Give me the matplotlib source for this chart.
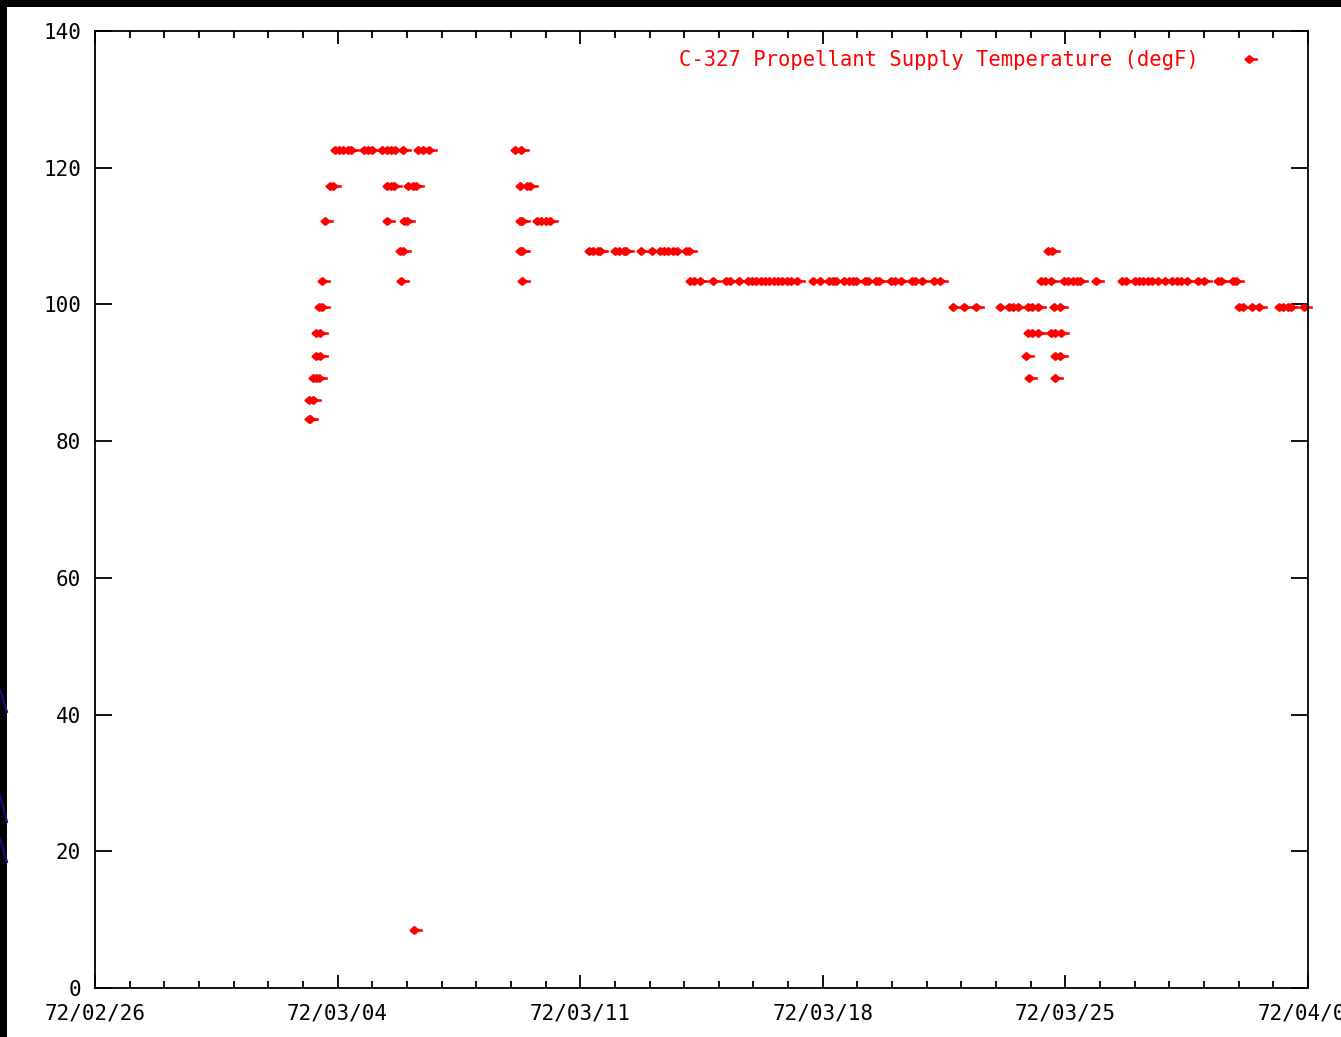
import matplotlib
matplotlib.use('Agg')
import matplotlib.pyplot as plt
import matplotlib.dates as mdates
from matplotlib.path import Path
from matplotlib.patches import Rectangle
from matplotlib.lines import Line2D
import datetime as dt

plt.rcParams['font.family'] = ['DejaVu Sans Mono', 'DejaVu Sans']

# ---------------- data (hours since 1972-02-26 00:00) ----------------
start = dt.datetime(1972, 2, 26)
series_label = "C-327 Propellant Supply Temperature (degF)"

t_122_6 = [166, 169, 172, 175, 177, 186, 189, 192, 199, 202, 205, 208, 213,
           224, 227, 231, 291, 295]
t_117_3 = [163, 165, 202, 205, 207, 217, 220, 222, 294, 299, 301]
t_112_2 = [159, 202, 214, 216, 294, 296, 306, 309, 312, 315]
t_107_8 = [211, 213, 294, 296, 342, 345, 348, 350, 360, 363, 366, 368, 378,
           386, 391, 394, 397, 400, 403, 409, 411, 660, 663]
t_103_4 = [157, 212, 296, 412, 415, 419, 428, 437, 440, 446, 452, 455, 458,
           461, 464, 467, 470, 473, 476, 479, 482, 486, 497, 502, 508, 511,
           513, 519, 522, 525, 527, 533, 535, 541, 543, 551, 554, 558, 566,
           568, 573, 581, 585, 655, 658, 662, 671, 674, 677, 680, 682, 693,
           711, 714, 720, 723, 726, 729, 732, 736, 741, 746, 749, 752, 756,
           764, 768, 778, 780, 788, 790]
t_99_6 = [155, 157, 594, 602, 610, 627, 633, 636, 639, 646, 649, 653, 664,
          668, 792, 795, 801, 806, 820, 823, 826, 828, 837]
t_95_8 = [153, 156, 646, 649, 653, 662, 665, 669]
t_92_5 = [153, 156, 645, 665, 668]
t_89_2 = [151, 153, 155, 647, 665]
t_86_0 = [148, 151]
t_83_2 = [148, 149]
t_8_5 = [221]

levels = [(122.6, t_122_6), (117.3, t_117_3), (112.2, t_112_2),
          (107.8, t_107_8), (103.4, t_103_4), (99.6, t_99_6),
          (95.8, t_95_8), (92.5, t_92_5), (89.2, t_89_2), (86.0, t_86_0),
          (83.2, t_83_2), (8.5, t_8_5)]

y_ticks = [0, 20, 40, 60, 80, 100, 120, 140]
n_days = 35

# ---------------- figure ----------------
W, H = 1341, 1037
fig = plt.figure(figsize=(W / 100, H / 100), dpi=100, facecolor='black')
fig.patches.append(Rectangle((7 / W, 0), 1, (H - 7) / H, transform=fig.transFigure,
                             facecolor='white', edgecolor='none', zorder=-10))
# faint navy decorative strokes on the left border
for (x0, y0, x1, y1) in [(0, 690, 7, 712), (0, 795, 7, 822), (0, 838, 7, 862)]:
    fig.add_artist(Line2D([x0 / W, x1 / W], [1 - y0 / H, 1 - y1 / H],
                          transform=fig.transFigure, color='#101080', lw=1.5,
                          zorder=-5))

ax = fig.add_axes([95 / W, (H - 988) / H, (1308 - 95) / W, (988 - 31) / H])
ax.set_facecolor('white')
ax.set_zorder(1)

verts = [(-1, 0), (0, 0.85), (1, 0), (0, -0.85), (-1, 0), (1, 0), (2.2, 0)]
codes = [Path.MOVETO, Path.LINETO, Path.LINETO, Path.LINETO, Path.CLOSEPOLY,
         Path.MOVETO, Path.LINETO]
marker = Path(verts, codes)

xs, ys = [], []
for v, hrs in levels:
    for h in hrs:
        xs.append(start + dt.timedelta(hours=h))
        ys.append(v)

ax.plot(xs, ys, linestyle='none', marker=marker, ms=12, mfc='red',
        mec='red', mew=1.8, clip_on=False, label=series_label)

ax.set_xlim(start, start + dt.timedelta(days=n_days))
ax.set_ylim(0, 140)
ax.set_yticks(y_ticks)
ax.set_xticks([start + dt.timedelta(days=7 * k) for k in range(6)])
ax.set_xticks([start + dt.timedelta(days=k) for k in range(n_days + 1)], minor=True)
ax.xaxis.set_major_formatter(mdates.DateFormatter('%y/%m/%d'))

for s in ax.spines.values():
    s.set_linewidth(1.3)
    s.set_color('black')

ax.tick_params(axis='y', which='major', direction='in', length=12, width=1.3,
               left=True, right=True, labelsize=15, pad=10, colors='black')
ax.tick_params(axis='x', which='major', direction='in', length=9.4, width=1.3,
               bottom=True, top=True, labelsize=15, pad=11, colors='black')
ax.tick_params(axis='x', which='minor', direction='in', length=5, width=1.3,
               bottom=True, top=True)

ax.legend(loc='upper right', bbox_to_anchor=(0.9687, 0.980), frameon=False,
          markerfirst=False, handlelength=2, handletextpad=1.45, borderpad=0,
          borderaxespad=0, labelcolor='red', fontsize=14.8, numpoints=1)

fig.savefig('out.png', dpi=100, facecolor='black')
